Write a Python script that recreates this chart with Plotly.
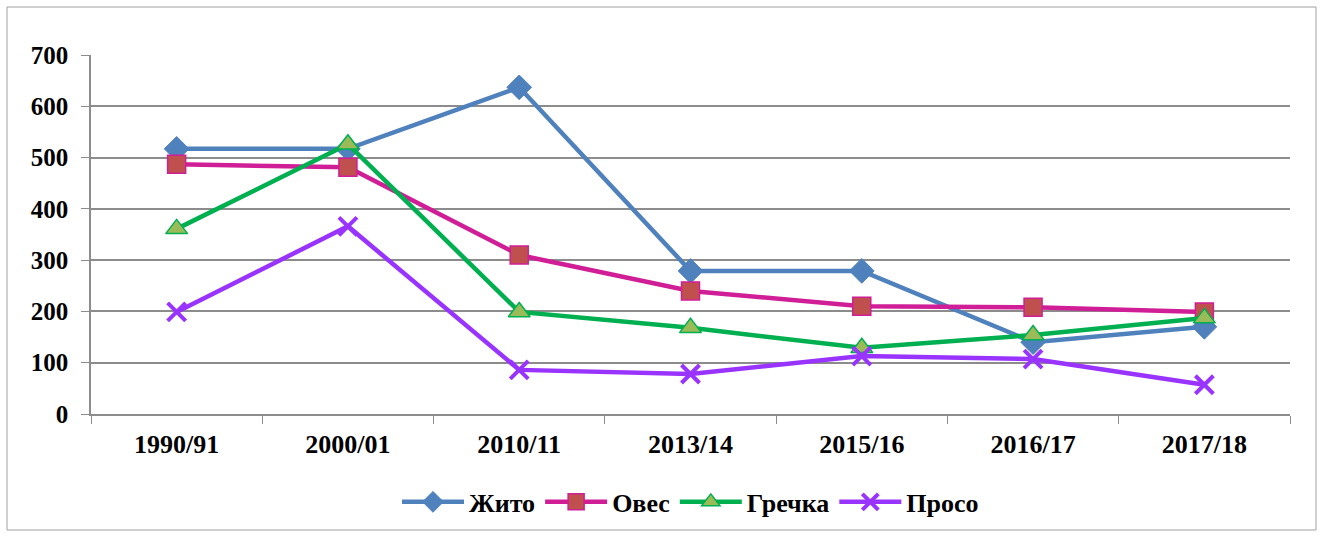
import plotly.graph_objects as go

# Seasons on the x axis
seasons = ["1990/91", "2000/01", "2010/11", "2013/14", "2015/16", "2016/17", "2017/18"]

# Values
zhyto = [517, 517, 637, 279, 279, 140, 170]
oves = [487, 481, 310, 240, 210, 208, 199]
grechka = [361, 526, 199, 168, 129, 154, 187]
proso = [199, 366, 86, 78, 113, 107, 57]

y_ticks = [0, 100, 200, 300, 400, 500, 600, 700]

W, H = 1323, 537
L, R, T, B = 91, 33, 55, 123

series = [
    ("Жито", zhyto, "#4F81BD", dict(symbol="diamond", size=19, color="#4F81BD",
                                    line=dict(color="#4F81BD", width=1))),
    ("Овес", oves, "#D01E96", dict(symbol="square", size=18, color="#C0504D",
                                   line=dict(color="#D01E96", width=1.5))),
    ("Гречка", grechka, "#00B050", dict(symbol="triangle-up", size=19, color="#9BBB59",
                                        line=dict(color="#00B050", width=1.5))),
    ("Просо", proso, "#9933FF", dict(symbol="x-thin", size=18, color="#9933FF",
                                     line=dict(color="#9933FF", width=4))),
]

fig = go.Figure()
for name, vals, color, marker in series:
    fig.add_trace(go.Scatter(
        x=seasons, y=vals, name=name, mode="lines+markers",
        line=dict(color=color, width=4.5),
        marker=marker,
    ))

# outer chart frame
pw = W - L - R
ph = H - T - B
fig.add_shape(type="rect", xref="paper", yref="paper",
              x0=(7 - L) / pw, x1=(1316 - L) / pw,
              y0=(H - B - 530) / ph, y1=(H - B - 7) / ph,
              line=dict(color="#A0A0A0", width=1), fillcolor="rgba(0,0,0,0)", layer="below")

fig.update_layout(
    width=W, height=H,
    margin=dict(l=L, r=R, t=T, b=B),
    paper_bgcolor="white", plot_bgcolor="white",
    font=dict(family="Liberation Serif", size=17, color="black"),
    showlegend=True,
    legend=dict(orientation="h", x=0.5, xanchor="center", y=-0.245, yanchor="middle",
                font=dict(family="Liberation Serif", size=26, color="black", weight="bold"),
                itemwidth=62, traceorder="normal"),
    xaxis=dict(
        type="category", range=[-0.5, 6.5], tickson="boundaries", ticks="outside",
        ticklen=8, tickcolor="#8C8C8C", showgrid=False, showline=True,
        linecolor="#8C8C8C", linewidth=1.5, zeroline=False, ticklabelstandoff=6,
        tickfont=dict(family="Liberation Serif", size=26, color="black", weight="bold"),
    ),
    yaxis=dict(
        range=[0, 700], tickvals=y_ticks, ticks="outside", ticklen=8, tickcolor="#8C8C8C",
        showgrid=True, gridcolor="#8C8C8C", gridwidth=1.5, showline=True,
        linecolor="#8C8C8C", linewidth=1.5, zeroline=False, ticklabelstandoff=8,
        tickfont=dict(family="Liberation Serif", size=25, color="black", weight="bold"),
    ),
)

# drop the page margin so the figure sits exactly in the window
fig.write_html(
    "out.html",
    config={"displayModeBar": False},
    post_script="document.body.style.margin='0';"
                "document.body.style.overflow='hidden';"
                "document.documentElement.style.overflow='hidden';",
)
